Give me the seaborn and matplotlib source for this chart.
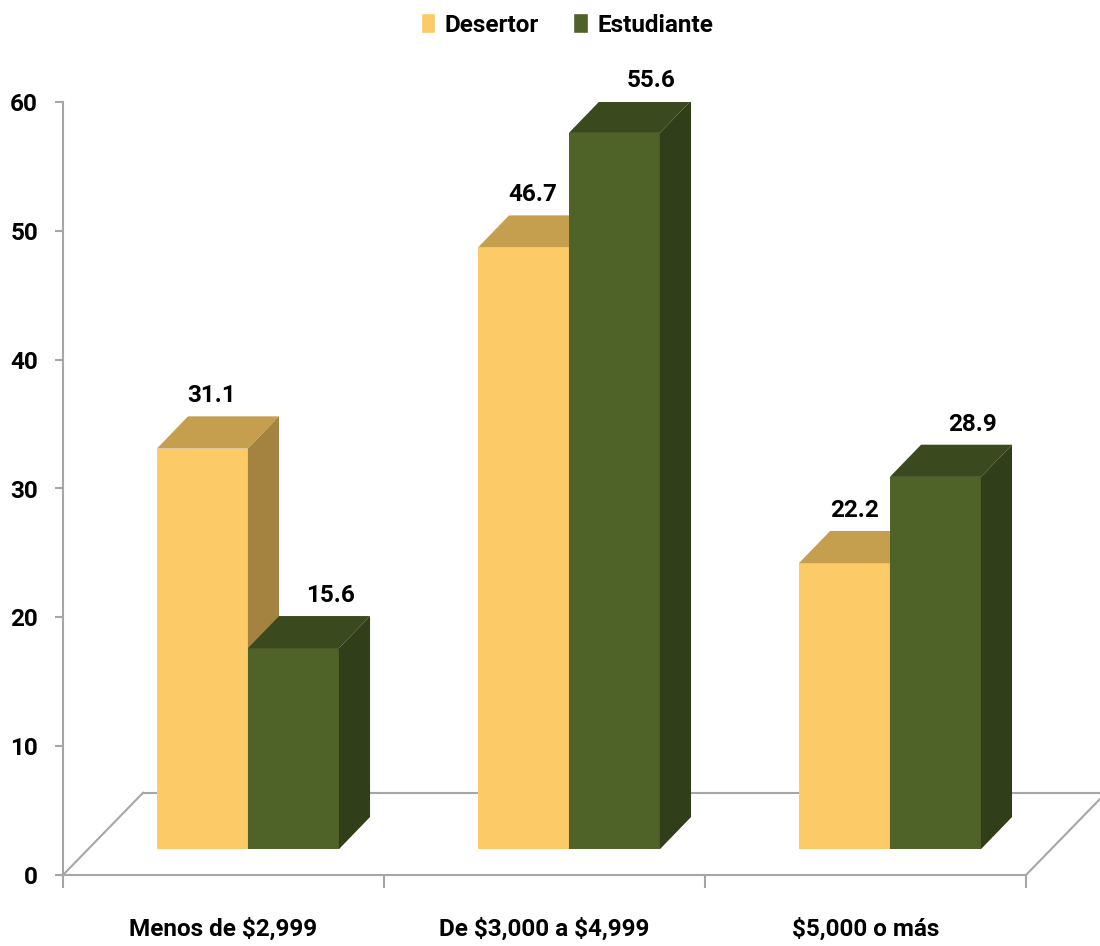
"""3D-style grouped bar chart: Desertor vs Estudiante by income bracket"""
import matplotlib.pyplot as plt
import matplotlib.patches as mpatches
import pandas as pd
import seaborn as sns

# Data
categories = ["Menos de $2,999", "De $3,000 a $4,999", "$5,000 o más"]
series = ["Desertor", "Estudiante"]
desertor = [31.1, 46.7, 22.2]
estudiante = [15.6, 55.6, 28.9]
yticks = [0, 10, 20, 30, 40, 50, 60]

df = pd.DataFrame({
    "categoria": categories * 2,
    "grupo": [series[0]] * len(categories) + [series[1]] * len(categories),
    "valor": desertor + estudiante,
})

# Face colours (front / top / side)
front = {"Desertor": "#FCCB67", "Estudiante": "#4F6228"}
top = {"Desertor": "#C59F4E", "Estudiante": "#3B4A1E"}
side = {"Desertor": "#A4823F", "Estudiante": "#303E19"}
label_dx = {"Desertor": 0.03, "Estudiante": 0.115}
gray = "#A6A6A6"

# 3D look: floor depth, bar position in depth, bar depth (data units)
FLOOR_DX, FLOOR_DY = 0.25, 6.4
SHIFT_X, SHIFT_Y = 0.076, 2.0
DEPTH_X, DEPTH_Y = 0.097, 2.5

sns.set_theme(style="white")
plt.rcParams["font.family"] = ["Roboto", "DejaVu Sans"]
plt.rcParams["font.weight"] = "bold"
plt.rcParams["text.parse_math"] = False

FS = 17.5

fig = plt.figure(figsize=(11, 9.46), dpi=100)
ax = fig.add_axes([63 / 1100, 71 / 946, 963 / 1100, 773 / 946])

sns.barplot(data=df, x="categoria", y="valor", hue="grupo", hue_order=series,
            palette=front, width=0.567, saturation=1, legend=False, ax=ax)

# Turn flat bars into boxes
for i, bar in enumerate(ax.patches[:len(df)]):
    name = df["grupo"].iloc[i]
    z = 3 + series.index(name)
    x0, w, h = bar.get_x() + SHIFT_X, bar.get_width(), bar.get_height()
    bar.set_x(x0)
    bar.set_y(SHIFT_Y)
    bar.set_linewidth(0)
    bar.set_zorder(z)
    yt = SHIFT_Y + h
    ax.add_patch(mpatches.Polygon(
        [(x0, yt), (x0 + w, yt), (x0 + w + DEPTH_X, yt + DEPTH_Y), (x0 + DEPTH_X, yt + DEPTH_Y)],
        closed=True, facecolor=top[name], linewidth=0, zorder=z))
    ax.add_patch(mpatches.Polygon(
        [(x0 + w, SHIFT_Y), (x0 + w + DEPTH_X, SHIFT_Y + DEPTH_Y),
         (x0 + w + DEPTH_X, yt + DEPTH_Y), (x0 + w, yt)],
        closed=True, facecolor=side[name], linewidth=0, zorder=z))
    ax.text(x0 + w / 2 + label_dx[name], yt + 4.1, f"{h:.1f}", ha="center", va="center",
            fontsize=FS, color="black", zorder=10)

# Floor outline
n = len(categories)
floor_kw = dict(color=gray, linewidth=1.5, clip_on=False, zorder=1)
ax.plot([-0.5, -0.5 + FLOOR_DX], [0, FLOOR_DY], **floor_kw)
ax.plot([-0.5 + FLOOR_DX, n - 0.5 + FLOOR_DX], [FLOOR_DY, FLOOR_DY], **floor_kw)
ax.plot([n - 0.5, n - 0.5 + FLOOR_DX], [0, FLOOR_DY], **floor_kw)

ax.set_xlim(-0.5, n - 0.5)
ax.set_ylim(0, 60)
ax.set_xlabel("")
ax.set_ylabel("")

for s in ["top", "right"]:
    ax.spines[s].set_visible(False)
for s in ["left", "bottom"]:
    ax.spines[s].set_color(gray)
    ax.spines[s].set_linewidth(1.5)

ax.set_yticks(yticks)
ax.set_yticklabels([str(t) for t in yticks], fontsize=FS, color="black")
ax.tick_params(axis="y", left=True, length=6, width=1.5, color=gray, pad=12)

ax.set_xticks([i - 0.5 for i in range(n + 1)])
ax.set_xticklabels([""] * (n + 1))
ax.set_xticks(range(n), minor=True)
ax.set_xticklabels(categories, minor=True, fontsize=FS, color="black")
ax.tick_params(axis="x", which="major", bottom=True, length=9, width=1.5, color=gray)
ax.tick_params(axis="x", which="minor", bottom=True, length=0, pad=31)

handles = [mpatches.Patch(facecolor=front[s], label=s) for s in series]
fig.legend(handles=handles, loc="center", bbox_to_anchor=(567 / 1100, 1 - 25 / 946),
           ncol=2, frameon=False, fontsize=FS, handlelength=0.6, handleheight=0.85,
           handletextpad=0.4, columnspacing=1.4, labelcolor="black")

fig.savefig("out.png", dpi=100)
